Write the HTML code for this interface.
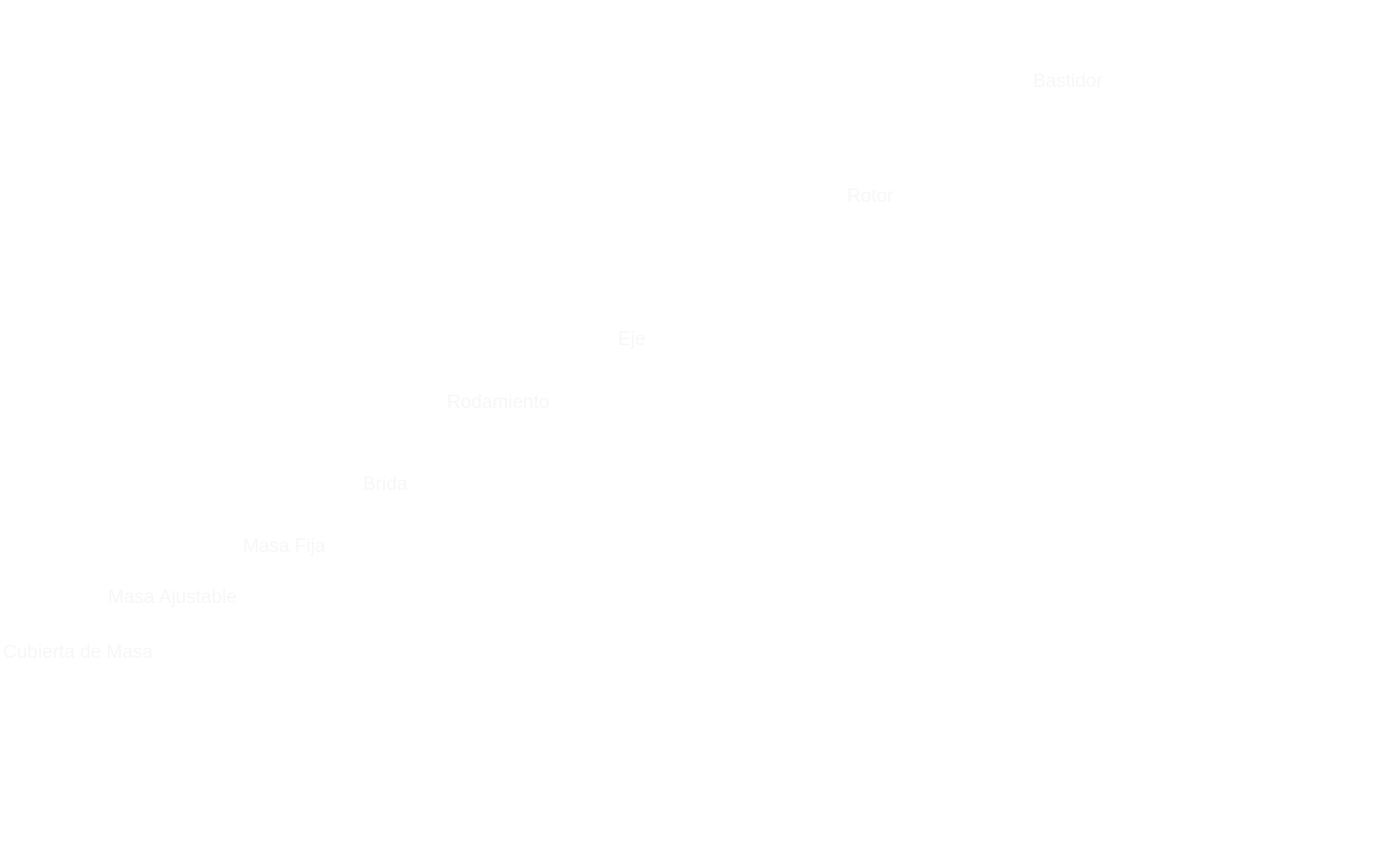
<!DOCTYPE html>
<html>
<head>
<meta charset="utf-8">
<style>
  html, body { margin: 0; padding: 0; background: #ffffff; }
  body { width: 1400px; height: 863px; overflow: hidden; position: relative; }
  svg { position: absolute; left: 0; top: 0; }
  text { font-family: "Liberation Sans", sans-serif; font-size: 19px; fill: #f7f7f7; }
</style>
</head>
<body>
<svg width="1400" height="863" viewBox="0 0 1400 863" xmlns="http://www.w3.org/2000/svg">
  <rect x="0" y="0" width="1400" height="863" fill="#ffffff"/>
  <text x="1033" y="87">Bastidor</text>
  <text x="847" y="202">Rotor</text>
  <text x="618" y="345">Eje</text>
  <text x="447" y="408">Rodamiento</text>
  <text x="363" y="490">Brida</text>
  <text x="243" y="552">Masa Fija</text>
  <text x="108" y="603">Masa Ajustable</text>
  <text x="3" y="658">Cubierta de Masa</text>
</svg>
</body>
</html>
